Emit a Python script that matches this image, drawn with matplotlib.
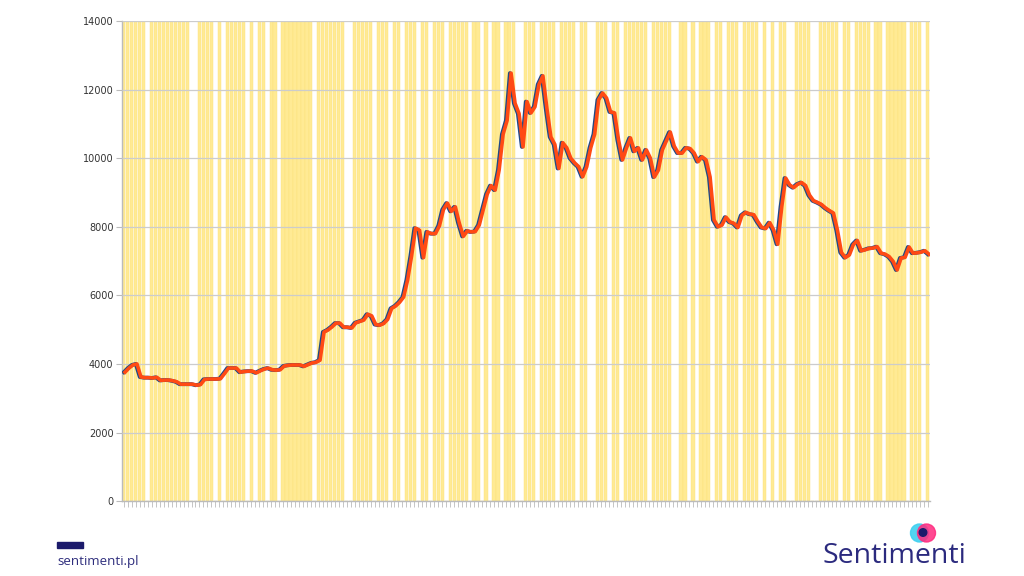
import matplotlib.pyplot as plt
import numpy as np
from matplotlib.patches import Circle, Rectangle

# price series (one value per period)
price = [
    3760, 3880, 3970, 4000, 3620, 3600, 3600, 3590, 3610, 3520,
    3530, 3530, 3510, 3480, 3410, 3410, 3410, 3410, 3380, 3400,
    3550, 3560, 3560, 3560, 3570, 3720, 3880, 3880, 3880, 3760,
    3780, 3790, 3790, 3740, 3800, 3850, 3880, 3830, 3820, 3830,
    3940, 3960, 3970, 3970, 3970, 3930, 3980, 4030, 4050, 4110,
    4930, 4990, 5080, 5190, 5190, 5070, 5070, 5050, 5200, 5240,
    5280, 5450, 5400, 5150, 5130, 5180, 5300, 5620, 5690, 5800,
    5950, 6450, 7150, 7960, 7900, 7100, 7850, 7800, 7800, 8030,
    8500, 8690, 8450, 8580, 8100, 7720, 7880, 7850, 7860, 8050,
    8500, 8950, 9200, 9070, 9660, 10700, 11100, 12480, 11600, 11300,
    10330, 11650, 11320, 11500, 12150, 12400, 11450, 10620, 10400, 9700,
    10450, 10300, 10000, 9860, 9750, 9460, 9750, 10300, 10700, 11700,
    11900, 11750, 11350, 11320, 10530, 9950, 10300, 10590, 10200, 10300,
    9950, 10240, 10000, 9450, 9650, 10240, 10500, 10760, 10350, 10150,
    10150, 10300, 10280, 10150, 9900, 10040, 9950, 9450, 8200, 8000,
    8050, 8280, 8140, 8100, 7980, 8330, 8420, 8370, 8350, 8150,
    7980, 7950, 8120, 7900, 7490, 8580, 9420, 9220, 9140, 9240,
    9290, 9200, 8920, 8760, 8710, 8650, 8550, 8470, 8400, 7900,
    7250, 7100, 7180, 7480, 7600, 7300, 7330, 7370, 7380, 7420,
    7230, 7200, 7130, 6990, 6740, 7090, 7110, 7410, 7230, 7240,
    7260, 7300, 7200,
]

# 1 = highlighted (yellow) period
signal = [
    1, 1, 1, 1, 1, 1, 0, 1, 1, 1, 1, 1, 1, 1, 1, 1, 1, 0, 0, 1,
    1, 1, 1, 0, 1, 0, 1, 1, 1, 1, 1, 0, 1, 0, 1, 1, 0, 1, 1, 0,
    1, 1, 1, 1, 1, 1, 1, 1, 0, 1, 1, 1, 1, 1, 1, 1, 0, 0, 1, 1,
    1, 1, 1, 0, 1, 1, 1, 0, 1, 1, 0, 1, 1, 1, 0, 1, 1, 0, 1, 1,
    1, 0, 1, 1, 1, 1, 1, 0, 1, 1, 0, 1, 0, 1, 1, 0, 1, 1, 1, 0,
    0, 1, 1, 1, 0, 1, 1, 1, 1, 0, 1, 1, 1, 1, 0, 1, 1, 0, 0, 1,
    1, 1, 0, 1, 1, 0, 1, 1, 1, 1, 1, 1, 0, 1, 1, 1, 1, 1, 0, 0,
    1, 1, 0, 1, 0, 1, 1, 1, 0, 1, 1, 0, 1, 1, 1, 0, 1, 1, 1, 1,
    0, 1, 0, 1, 0, 1, 1, 0, 0, 1, 1, 1, 1, 0, 0, 1, 1, 1, 1, 1,
    0, 1, 1, 0, 1, 1, 1, 1, 0, 1, 1, 0, 1, 1, 1, 1, 1, 0, 1, 1,
    1, 0, 1,
]

y_ticks = [0, 2000, 4000, 6000, 8000, 10000, 12000, 14000]

x = np.arange(len(price))

fig = plt.figure(figsize=(10.24, 5.76), dpi=100)
ax = fig.add_axes([0.119, 0.130, 0.789, 0.8335])

# highlighted periods as full-height columns
hl = np.array(signal) * 14000
ax.bar(x, hl, width=0.8, color="#ffea94", edgecolor="#fde27a", linewidth=0.3, zorder=1)

ax.plot(x, price, color="#1f4a86", lw=2.8, zorder=3, solid_joinstyle="round")
ax.plot(x + 0.3, price, color="#ff4a14", lw=2.6, zorder=4, solid_joinstyle="round")

ax.set_ylim(0, 14000)
ax.set_xlim(-0.5, len(price) - 0.5)
ax.set_yticks(y_ticks)
ax.set_yticklabels([str(v) for v in y_ticks], fontsize=7, color="#333333")
ax.set_xticks(x)
ax.set_xticklabels([])
ax.tick_params(axis="x", length=4, width=0.6, color="#bbbbbb")
ax.tick_params(axis="y", length=4, width=0.8, color="#bbbbbb", pad=2)
ax.yaxis.grid(True, color="#cccccc", lw=0.9, zorder=2)
ax.set_axisbelow(False)
for s in ["top", "right"]:
    ax.spines[s].set_visible(False)
for s in ["left", "bottom"]:
    ax.spines[s].set_color("#bbbbbb")
    ax.spines[s].set_linewidth(1.0)

# footer: small logo bar + site name
fig.patches.append(Rectangle((57 / 1024, 1 - 548 / 576), 26 / 1024, 6 / 576,
                             transform=fig.transFigure, color="#1b1a6b"))
fig.text(57 / 1024, 1 - 562 / 576, "sentimenti.pl", fontsize=9.6, color="#2f2e7d",
         family="Open Sans", va="center", ha="left")

# brand name and head icon
fig.text(822 / 1024, 1 - 556 / 576, "Sentimenti", fontsize=20.5, color="#2b2a7e",
         family="Open Sans", va="center", ha="left")
ic = fig.add_axes([907 / 1024, 1 - 548 / 576, 32 / 1024, 26 / 576])
ic.set_xlim(0, 32)
ic.set_ylim(0, 26)
ic.set_aspect("equal")
ic.axis("off")
ic.add_patch(Circle((12.5, 15), 9, color="#3fd0f0", alpha=0.9))
ic.add_patch(Circle((19.5, 15), 9, color="#ff2a7f", alpha=0.85))
ic.add_patch(Circle((16, 15.5), 3.8, color="#1b1a6b"))

fig.savefig("out.png", dpi=100)
